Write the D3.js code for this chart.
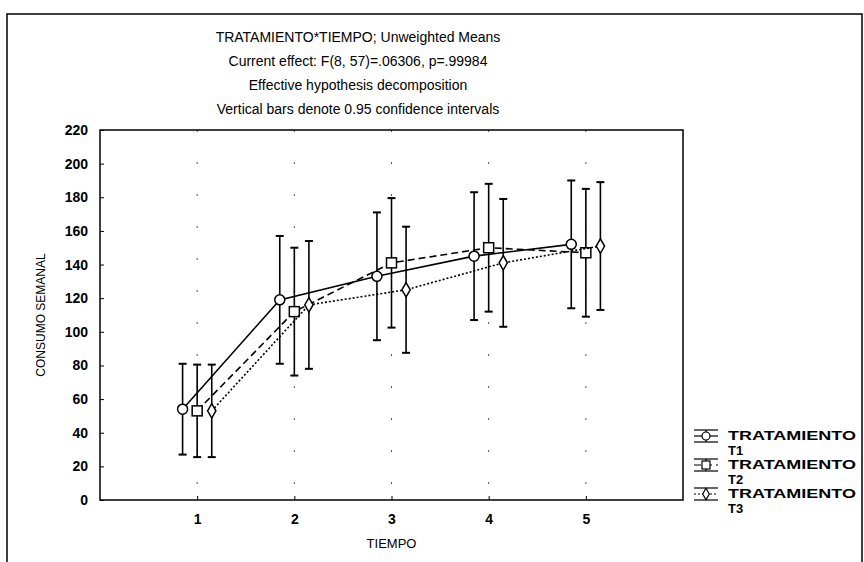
<!DOCTYPE html>
<meta charset="utf-8">
<script src="https://d3js.org/d3.v7.min.js"></script>
<style>
  body { margin: 0; background: #fff; }
  text { font-family: "Liberation Sans", Arial, sans-serif; fill: #000; }
</style>
<div id="my_dataviz"></div>
<script>
// data
var tiempo = [1, 2, 3, 4, 5];
var series = ["TRATAMIENTO T1", "TRATAMIENTO T2", "TRATAMIENTO T3"];
var meansT1 = [54, 119, 133, 145, 152];
var meansT2 = [53, 112, 141, 150, 147];
var meansT3 = [53, 116, 125, 141, 151];
var ciT1 = [27, 38, 38, 38, 38];
var ciT2 = [27.5, 38, 38.5, 38, 38];
var ciT3 = [27.5, 38, 37.5, 38, 38];
var yTicks = [0, 20, 40, 60, 80, 100, 120, 140, 160, 180, 200, 220];
var titleLines = [
  "TRATAMIENTO*TIEMPO; Unweighted Means",
  "Current effect: F(8, 57)=.06306, p=.99984",
  "Effective hypothesis decomposition",
  "Vertical bars denote 0.95 confidence intervals"
];

var W = 864, H = 562;
var margin = {top: 130, right: 181, bottom: 62, left: 100},
    width = W - margin.left - margin.right,
    height = H - margin.top - margin.bottom;

var svg = d3.select("#my_dataviz").append("svg")
  .attr("width", W).attr("height", H);

// outer frame of the scanned page
svg.append("path")
  .attr("d", "M7," + H + "V14H862V" + H)
  .attr("fill", "none").attr("stroke", "#000").attr("stroke-width", 1.5);

// title
svg.selectAll(".title").data(titleLines).enter().append("text")
  .attr("class", "title")
  .attr("x", 358).attr("y", (d, i) => 42 + i * 24)
  .attr("text-anchor", "middle")
  .style("font-size", "14px")
  .text(d => d);

var g = svg.append("g")
  .attr("transform", "translate(" + margin.left + "," + margin.top + ")");

var x = d3.scaleLinear().domain([0, 6]).range([0, width]);
var y = d3.scaleLinear().domain([0, 220]).range([height, 0]);

// faint dotted verticals at the time points
g.selectAll(".grid").data(tiempo).enter().append("line")
  .attr("x1", d => x(d)).attr("x2", d => x(d))
  .attr("y1", 0).attr("y2", height)
  .attr("stroke", "#555").attr("stroke-width", 1)
  .attr("stroke-dasharray", "2,30");

// axes
var yAxis = g.append("g")
  .call(d3.axisLeft(y).tickValues(yTicks).tickSize(-4).tickPadding(12));
var xAxis = g.append("g")
  .attr("transform", "translate(0," + height + ")")
  .call(d3.axisBottom(x).tickValues(tiempo).tickSize(-4).tickPadding(14).tickFormat(d3.format("d")));
[xAxis, yAxis].forEach(function(a) {
  a.select(".domain").remove();
  a.selectAll("line").attr("stroke", "#000");
  a.selectAll("text").style("font-size", "14px").style("font-weight", "bold")
    .style("font-family", "'Liberation Sans', Arial, sans-serif");
});

// plot frame
g.append("rect")
  .attr("width", width).attr("height", height)
  .attr("fill", "none").attr("stroke", "#000").attr("stroke-width", 1.5);

// axis titles
g.append("text")
  .attr("x", x(3)).attr("y", height + 48)
  .attr("text-anchor", "middle")
  .style("font-size", "13px")
  .text("TIEMPO");
g.append("text")
  .attr("transform", "rotate(-90)")
  .attr("x", -height / 2).attr("y", -55)
  .attr("text-anchor", "middle")
  .style("font-size", "12px")
  .text("CONSUMO SEMANAL");

// series
var offset = 0.15;
var data = [
  {name: series[0], means: meansT1, ci: ciT1, dash: null, marker: "circle", dx: -offset},
  {name: series[1], means: meansT2, ci: ciT2, dash: "7,4", marker: "square", dx: 0},
  {name: series[2], means: meansT3, ci: ciT3, dash: "2,2", marker: "diamond", dx: offset}
];

var line = d3.line()
  .x(d => x(d.t))
  .y(d => y(d.v));

function drawMarker(sel, kind) {
  if (kind === "circle") {
    sel.append("circle").attr("r", 5);
  } else if (kind === "square") {
    sel.append("rect").attr("x", -5).attr("y", -5).attr("width", 10).attr("height", 10);
  } else {
    sel.append("path").attr("d", d3.symbol().type(d3.symbolDiamond).size(60));
  }
  sel.selectAll("circle,rect,path")
    .attr("fill", "#fff").attr("stroke", "#000").attr("stroke-width", 1.5);
}

data.forEach(function(s) {
  var pts = tiempo.map((t, i) => ({t: t + s.dx, v: s.means[i], ci: s.ci[i]}));

  // error bars
  var eb = g.append("g").selectAll("g").data(pts).enter().append("g");
  eb.append("line")
    .attr("x1", d => x(d.t)).attr("x2", d => x(d.t))
    .attr("y1", d => y(d.v + d.ci)).attr("y2", d => y(d.v - d.ci))
    .attr("stroke", "#000").attr("stroke-width", 1.6);
  [1, -1].forEach(function(sgn) {
    eb.append("line")
      .attr("x1", d => x(d.t) - 4).attr("x2", d => x(d.t) + 4)
      .attr("y1", d => y(d.v + sgn * d.ci)).attr("y2", d => y(d.v + sgn * d.ci))
      .attr("stroke", "#000").attr("stroke-width", 2);
  });

  g.append("path")
    .datum(pts)
    .attr("d", line)
    .attr("fill", "none").attr("stroke", "#000").attr("stroke-width", 1.6)
    .attr("stroke-dasharray", s.dash);

  g.append("g").selectAll("g").data(pts).enter().append("g")
    .attr("transform", d => "translate(" + x(d.t) + "," + y(d.v) + ")")
    .each(function() { drawMarker(d3.select(this), s.marker); });
});

// legend
var legend = svg.append("g").selectAll("g").data(data).enter().append("g")
  .attr("transform", (d, i) => "translate(706," + (436 + i * 29) + ")");
legend.append("line").attr("x1", -12).attr("x2", 12).attr("y1", -6).attr("y2", -6)
  .attr("stroke", "#000").attr("stroke-width", 1.2);
legend.append("line").attr("x1", -12).attr("x2", 12).attr("y1", 6).attr("y2", 6)
  .attr("stroke", "#000").attr("stroke-width", 1.2);
legend.append("line").attr("x1", 0).attr("x2", 0).attr("y1", -6).attr("y2", 6)
  .attr("stroke", "#000").attr("stroke-width", 1.2);
legend.append("line").attr("x1", -12).attr("x2", 12).attr("y1", 0).attr("y2", 0)
  .attr("stroke", "#000").attr("stroke-width", 1.2)
  .attr("stroke-dasharray", d => d.dash);
legend.each(function(d) {
  var m = d3.select(this).append("g").attr("transform", "scale(0.8)");
  drawMarker(m, d.marker);
});
legend.append("text")
  .attr("x", 22).attr("y", 4)
  .attr("textLength", 128).attr("lengthAdjust", "spacingAndGlyphs")
  .style("font-size", "13px").style("font-weight", "bold")
  .text(d => d.name.split(" ")[0]);
legend.append("text")
  .attr("x", 22).attr("y", 19)
  .style("font-size", "13px").style("font-weight", "bold")
  .text(d => d.name.split(" ")[1]);
</script>
